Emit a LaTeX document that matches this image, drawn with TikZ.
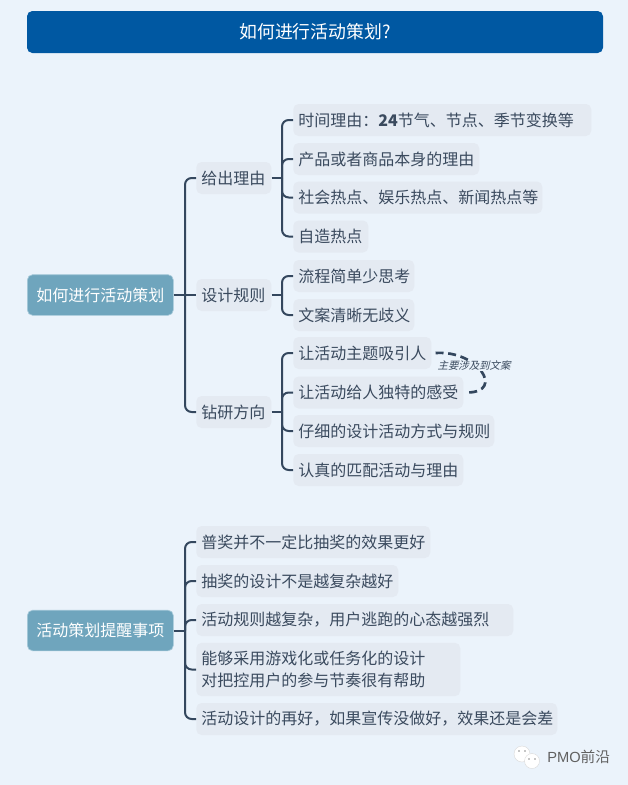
\documentclass[tikz,border=0pt]{standalone}
\usepackage{fontspec}
\setmainfont{Noto Sans CJK SC}
\newfontfamily\cjkslant[FakeSlant=0.25]{Noto Sans CJK SC}
\newfontfamily\wmfont{Liberation Sans}
\definecolor{bgc}{HTML}{EBF3FB}
\definecolor{titlec}{HTML}{0058A2}
\definecolor{rootc}{HTML}{6FA5BD}
\definecolor{rootb}{HTML}{A9CBDB}
\definecolor{leafc}{HTML}{E4EAF2}
\definecolor{textc}{HTML}{3A4A5E}
\definecolor{linec}{HTML}{34475E}
\tikzset{
  x=0.75pt,y=-0.75pt,
  boxbase/.style={rounded corners=4pt,inner ysep=0pt,inner xsep=3.75pt,anchor=west,align=left,font=\fontsize{12}{16.5}\selectfont,text=textc},
  leaf/.style={boxbase,fill=leafc,text width={(#1-10)*0.75pt}},
  rootbox/.style={boxbase,fill=rootc,draw=rootb,line width=0.5pt,text=white,minimum height=30.5pt,align=center,text width=102pt},
  conn/.style={draw=linec,line width=1.5pt,rounded corners=5pt},
  note/.style={draw=linec,line width=2pt,dash pattern=on 6pt off 3.5pt},
  bubble/.style={fill=white,draw=black!15,line width=0.3pt},
  eyedot/.style={fill=black!45}
}
\begin{document}
\begin{tikzpicture}
\useasboundingbox (0,0) rectangle (628,785);
\fill[bgc] (0,0) rectangle (628,785);
% title
\node[rounded corners=4pt,fill=titlec,text=white,minimum width=432pt,minimum height=31.5pt,inner sep=0pt,font=\fontsize{13.4}{16}\selectfont] (title) at (315,32) {如何进行活动策划?\hspace{10pt}};
% upper tree
\node[rootbox] (r1) at (27,295) {如何进行活动策划};
\node[leaf=75,minimum height=24pt] (a) at (196,178) {给出理由};
\node[leaf=75,minimum height=24pt] (b) at (196,295) {设计规则};
\node[leaf=75,minimum height=24pt] (c) at (196,412) {钻研方向};
\node[leaf=298,minimum height=24pt] (a1) at (293,120) {时间理由：\textbf{24}节气、节点、季节变换等};
\node[leaf=186,minimum height=24pt] (a2) at (293,159) {产品或者商品本身的理由};
\node[leaf=249,minimum height=24pt] (a3) at (293,197.5) {社会热点、娱乐热点、新闻热点等};
\node[leaf=75,minimum height=24pt] (a4) at (293,236.5) {自造热点};
\node[leaf=121,minimum height=24pt] (b1) at (293,276) {流程简单少思考};
\node[leaf=121,minimum height=24pt] (b2) at (293,315) {文案清晰无歧义};
\node[leaf=138,minimum height=24pt] (c1) at (293,353) {让活动主题吸引人};
\node[leaf=170,minimum height=24pt] (c2) at (293,392.5) {让活动给人独特的感受};
\node[leaf=201,minimum height=24pt] (c3) at (293,431) {仔细的设计活动方式与规则};
\node[leaf=170,minimum height=24pt] (c4) at (293,470) {认真的匹配活动与理由};
% lower tree
\node[rootbox] (r2) at (27,630.5) {活动策划提醒事项};
\node[leaf=234,minimum height=24pt] (d1) at (196,542) {普奖并不一定比抽奖的效果更好};
\node[leaf=202,minimum height=24pt] (d2) at (196,581) {抽奖的设计不是越复杂越好};
\node[leaf=317,minimum height=24pt] (d3) at (196,620) {活动规则越复杂，用户逃跑的心态越强烈};
\node[leaf=264,minimum height=40pt] (d4) at (196,669.5) {能够采用游戏化或任务化的设计\\对把控用户的参与节奏很有帮助};
\node[leaf=361,minimum height=24pt] (d5) at (196,719) {活动设计的再好，如果宣传没做好，效果还是会差};
% spines
\coordinate (s1) at (185,295);
\coordinate (s2) at (282,178);
\coordinate (s3) at (185,630.5);
\draw[conn] (r1.east) -- (s1);
\foreach \k in {a,c} \draw[conn] (s1) |- (\k.west);
\draw[conn] (s1) -- (b.west);
\draw[conn] (a.east) -- (s2 |- a.east);
\foreach \k in {a1,a2,a3,a4} \draw[conn] (s2 |- a.east) |- (\k.west);
\draw[conn] (b.east) -- (s2 |- b.east);
\foreach \k in {b1,b2} \draw[conn] (s2 |- b.east) |- (\k.west);
\draw[conn] (c.east) -- (s2 |- c.east);
\foreach \k in {c1,c2,c3,c4} \draw[conn] (s2 |- c.east) |- (\k.west);
\draw[conn] (r2.east) -- (s3);
\foreach \k in {d1,d2,d3,d4,d5} \draw[conn] (s3) |- (\k.west);
% note
\coordinate (n1) at ([xshift=3pt]c1.east);
\coordinate (n2) at ([xshift=3pt]c2.east);
\draw[note] (n1) .. controls (478,350) and (505,392) .. (n2);
\node[fill=bgc,inner sep=0.3pt,font=\cjkslant\fontsize{7.8}{9}\selectfont,text=textc] (note) at (474,366) {主要涉及到文案};
% watermark
\fill[bubble] (522,754) circle (8);
\fill[bubble] (532,761) circle (7.5);
\fill[eyedot] (519,751) circle (0.9) (525,751) circle (0.9) (529,759) circle (0.8) (535,759) circle (0.8);
\node[inner sep=0pt,anchor=west,text=black!62,font=\wmfont\fontsize{11}{12}\selectfont] (wm) at (547,757) {PMO\normalfont 前沿};
\end{tikzpicture}
\end{document}
